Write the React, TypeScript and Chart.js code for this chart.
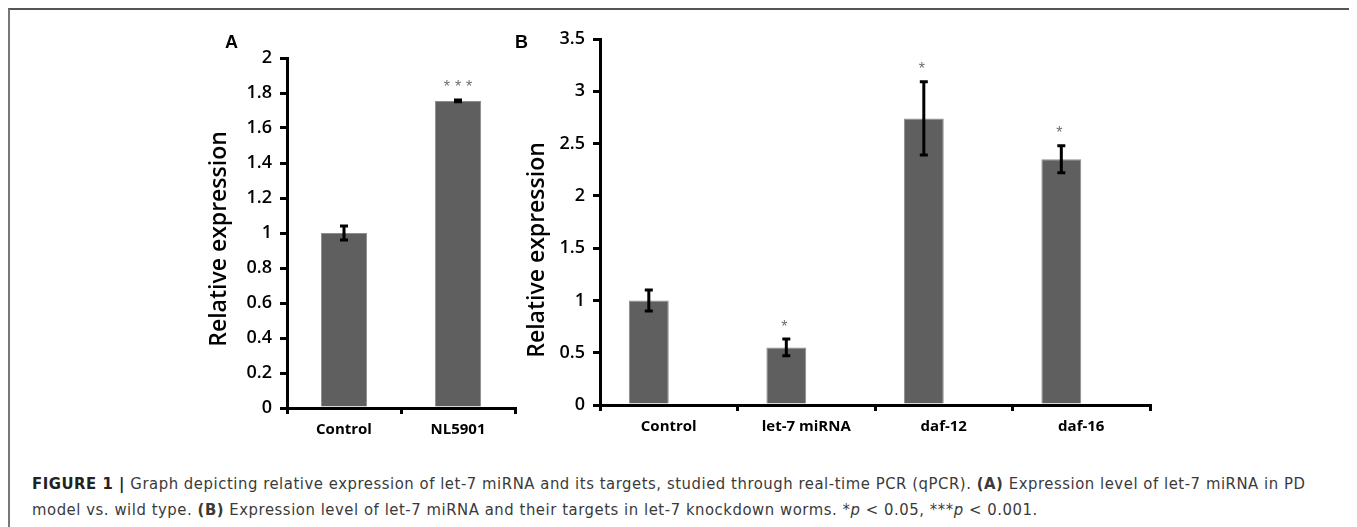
import React, { useEffect, useRef } from 'react';
import { Chart, registerables } from 'chart.js';

Chart.register(...registerables);

// ---- Panel A data ----
const categoriesA = ['Control', 'NL5901'];
const valuesA = [1.0, 1.755];
const errorsA = [0.04, 0.005];
const starsA = ['', '***'];
const yMaxA = 2;
const yStepA = 0.2;

// ---- Panel B data ----
const categoriesB = ['Control', 'let-7 miRNA', 'daf-12', 'daf-16'];
const valuesB = [1.0, 0.55, 2.74, 2.35];
const errorsB = [0.1, 0.08, 0.35, 0.13];
const starsB = ['', '*', '*', '*'];
const yMaxB = 3.5;
const yStepB = 0.5;

const yTitle = 'Relative expression';

const errorBarPlugin = {
  id: 'errBars',
  afterDraw(chart: any, _args: any, opts: any) {
    const { ctx } = chart;
    const yScale = chart.scales.y;
    const meta = chart.getDatasetMeta(0);
    const vals: number[] = chart.data.datasets[0].data;
    ctx.save();
    meta.data.forEach((bar: any, i: number) => {
      const v = vals[i];
      const e = opts.errors[i];
      const x = bar.x;
      const yt = yScale.getPixelForValue(v + e);
      const yb = yScale.getPixelForValue(v - e);
      ctx.strokeStyle = '#000';
      ctx.lineWidth = 3;
      ctx.lineCap = 'butt';
      ctx.beginPath();
      ctx.moveTo(x, yt);
      ctx.lineTo(x, yb);
      ctx.moveTo(x - 4, yt);
      ctx.lineTo(x + 4, yt);
      ctx.moveTo(x - 4, yb);
      ctx.lineTo(x + 4, yb);
      ctx.stroke();
      const s = opts.stars[i];
      if (s) {
        ctx.fillStyle = '#6e6e6e';
        ctx.font = '16px "Liberation Sans", Arial, sans-serif';
        ctx.textAlign = 'center';
        ctx.textBaseline = 'middle';
        (ctx as any).letterSpacing = s.length > 1 ? '5px' : '0px';
        ctx.fillText(s, x + (s.length > 1 ? 2.5 : -2), yt - 12);
      }
    });
    (ctx as any).letterSpacing = '0px';
    // panel letter
    ctx.fillStyle = '#000';
    ctx.font = 'bold 18px "Liberation Sans", Arial, sans-serif';
    ctx.textAlign = 'left';
    ctx.textBaseline = 'alphabetic';
    ctx.fillText(opts.letter, opts.letterX, opts.letterY);
    // y axis title
    ctx.translate(opts.titleX, opts.titleY);
    ctx.rotate(-Math.PI / 2);
    ctx.font = '600 23px "Open Sans", sans-serif';
    ctx.textAlign = 'center';
    ctx.textBaseline = 'middle';
    ctx.fillText(yTitle, 0, 0);
    ctx.restore();
  },
};

type PanelProps = {
  left: number;
  top: number;
  width: number;
  height: number;
  categories: string[];
  values: number[];
  errors: number[];
  stars: string[];
  yMax: number;
  yStep: number;
  letter: string;
  letterX: number;
  letterY: number;
  titleX: number;
  titleY: number;
  padTop: number;
  padRight: number;
  yWidth: number;
  xHeight: number;
  catPct: number;
  barPct: number;
  ghost: boolean;
};

function Panel(p: PanelProps) {
  const ref = useRef<HTMLCanvasElement | null>(null);
  useEffect(() => {
    if (!ref.current) return;
    const datasets: any[] = [
      {
        data: p.values,
        backgroundColor: '#5f5f5f',
        borderColor: '#8d8d8d',
        borderWidth: 1,
        barPercentage: p.barPct,
        categoryPercentage: p.catPct,
      },
    ];
    if (p.ghost) {
      datasets.push({
        data: p.values.map(() => null),
        backgroundColor: 'rgba(0,0,0,0)',
        barPercentage: p.barPct,
        categoryPercentage: p.catPct,
      });
    }
    const tickFont = { family: '"Open Sans", sans-serif', size: 18, weight: '600' as any };
    const chart = new Chart(ref.current, {
      type: 'bar',
      data: { labels: p.categories, datasets },
      options: {
        responsive: false,
        animation: false,
        devicePixelRatio: 1,
        layout: { padding: { top: p.padTop, right: p.padRight, left: 0, bottom: 0 } },
        plugins: {
          legend: { display: false },
          tooltip: { enabled: false },
          errBars: {
            errors: p.errors,
            stars: p.stars,
            letter: p.letter,
            letterX: p.letterX,
            letterY: p.letterY,
            titleX: p.titleX,
            titleY: p.titleY,
          },
        } as any,
        scales: {
          x: {
            z: 1,
            offset: true,
            grid: {
              display: true,
              offset: true,
              drawOnChartArea: false,
              drawTicks: true,
              tickLength: 6,
              color: '#000',
              lineWidth: 3,
            },
            border: { display: true, color: '#000', width: 3 },
            ticks: {
              color: '#000',
              padding: 7,
              font: { family: '"Open Sans", sans-serif', size: 15, weight: 'bold' as any },
              maxRotation: 0,
              autoSkip: false,
            },
            afterFit(scale: any) {
              scale.height = p.xHeight;
            },
          },
          y: {
            z: 1,
            min: 0,
            max: p.yMax,
            grid: {
              display: true,
              drawOnChartArea: false,
              drawTicks: true,
              tickLength: 7,
              color: '#000',
              lineWidth: 3,
            },
            border: { display: true, color: '#000', width: 3 },
            ticks: {
              stepSize: p.yStep,
              color: '#000',
              padding: 8,
              font: tickFont,
              callback: (v: any) => String(+Number(v).toFixed(2)),
            },
            title: { display: false },
            afterFit(scale: any) {
              scale.width = p.yWidth;
            },
          },
        },
      } as any,
      plugins: [errorBarPlugin],
    });
    return () => chart.destroy();
  }, []);
  return (
    <canvas
      ref={ref}
      width={p.width}
      height={p.height}
      style={{ position: 'absolute', left: p.left - 8, top: p.top - 8, width: p.width, height: p.height }}
    />
  );
}

export default function App() {
  useEffect(() => {
    document.body.style.overflow = 'hidden';
  }, []);
  return (
    <div style={{ position: 'relative', width: 1349, height: 540, background: '#fff' }}>
      <div
        style={{
          position: 'absolute',
          left: 0,
          top: 0,
          width: 1349,
          height: 540,
          boxSizing: 'border-box',
          borderTop: '2px solid #555',
          borderLeft: '2px solid #777',
          borderRight: '2px solid #777',
        }}
      />
      <Panel
        left={190}
        top={20}
        width={340}
        height={440}
        categories={categoriesA}
        values={valuesA}
        errors={errorsA}
        stars={starsA}
        yMax={yMaxA}
        yStep={yStepA}
        letter="A"
        letterX={35}
        letterY={28}
        titleX={29}
        titleY={219}
        padTop={38}
        padRight={15}
        yWidth={97}
        xHeight={52}
        catPct={0.45}
        barPct={0.9}
        ghost={false}
      />
      <Panel
        left={480}
        top={20}
        width={690}
        height={440}
        categories={categoriesB}
        values={valuesB}
        errors={errorsB}
        stars={starsB}
        yMax={yMaxB}
        yStep={yStepB}
        letter="B"
        letterX={35}
        letterY={28}
        titleX={57}
        titleY={230}
        padTop={19}
        padRight={20}
        yWidth={120}
        xHeight={55}
        catPct={0.58}
        barPct={1.0}
        ghost={true}
      />
      <div
        style={{
          position: 'absolute',
          left: 24,
          top: 463,
          fontFamily: '"Liberation Sans Narrow", "Arial Narrow", "DejaVu Sans Condensed", sans-serif',
          fontSize: 16.5,
          lineHeight: '26px',
          letterSpacing: '0.55px',
          color: '#3a3a3a',
          whiteSpace: 'nowrap',
        }}
      >
        <b style={{ color: '#222' }}>FIGURE 1 |</b> Graph depicting relative expression of let-7 miRNA and its targets, studied through real-time PCR (qPCR). <b>(A)</b> Expression level of let-7 miRNA in PD
        <br />
        model vs. wild type. <b>(B)</b> Expression level of let-7 miRNA and their targets in let-7 knockdown worms. *<i>p</i> &lt; 0.05, ***<i>p</i> &lt; 0.001.
      </div>
    </div>
  );
}
